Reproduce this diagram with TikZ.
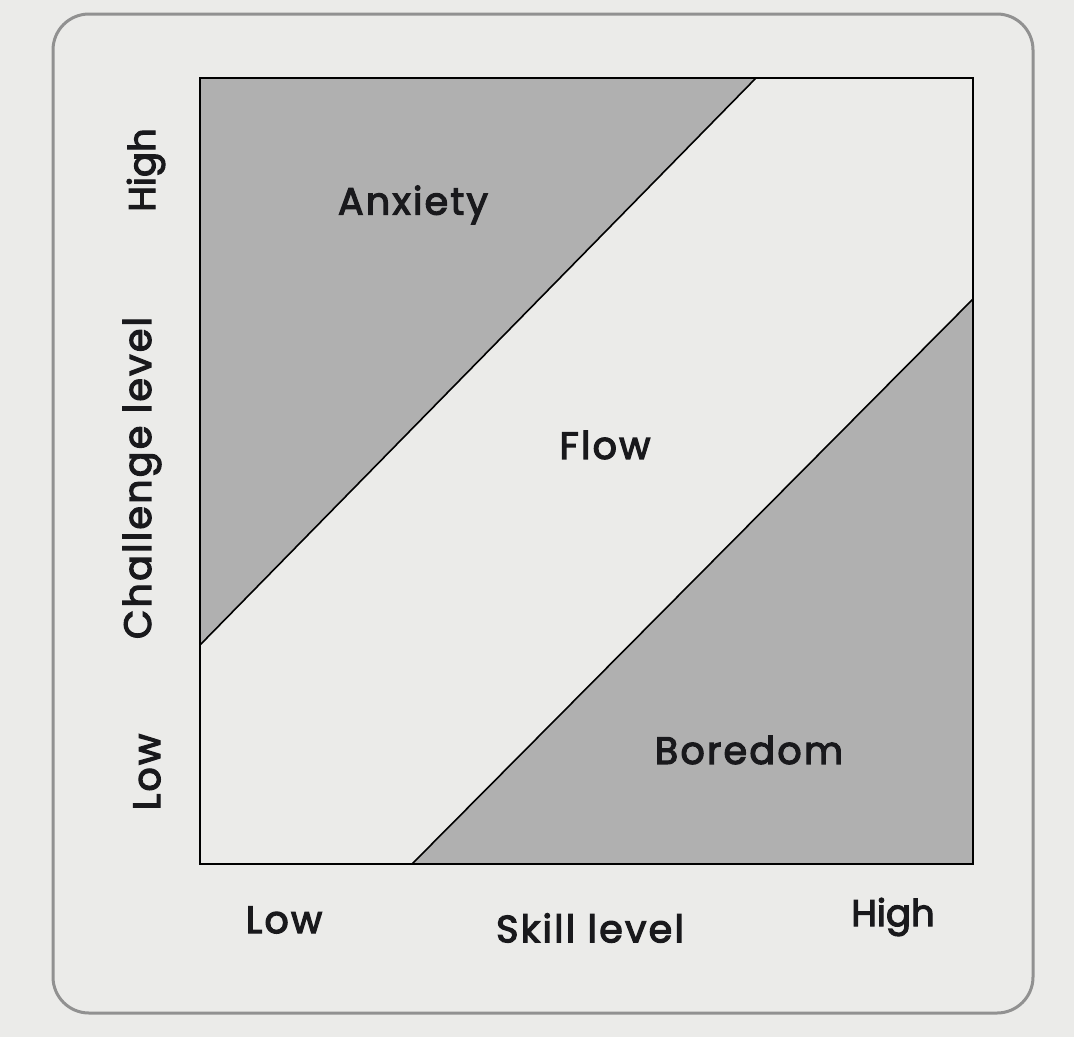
\documentclass[tikz,border=0pt]{standalone}
\usepackage{fontspec}
\setmainfont{Poppins}
\newfontfamily\chartfont{Poppins}[FakeBold=3.2,LetterSpace=6]
\newfontfamily\chartfonttight{Poppins}[FakeBold=3.2,LetterSpace=0]
\begin{document}
\begin{tikzpicture}[x=1pt,y=-1pt,
  paper/.style={fill=paperc},
  zone/.style={fill=zonec},
  edge/.style={draw=black,line width=1.6pt},
  label/.style={font=\chartfont\fontsize{38}{38}\selectfont,text=inkc,inner sep=0pt},
  axis/.style={font=\chartfont\fontsize{38}{38}\selectfont,text=inkc,inner sep=0pt},
  axistight/.style={font=\chartfonttight\fontsize{37}{37}\selectfont,text=inkc,inner sep=0pt}]
\definecolor{paperc}{RGB}{235,235,233}
\definecolor{zonec}{RGB}{176,176,176}
\definecolor{framec}{RGB}{145,145,145}
\definecolor{inkc}{RGB}{25,25,28}
% page and frame
\fill[paper] (0,0) rectangle (1074,1037);
\useasboundingbox (0,0) rectangle (1074,1037);
\draw[framec,line width=3pt,rounded corners=36pt] (53,14) rectangle (1033,1013);
% chart square corners and boundary points
\coordinate (tl) at (200,78);
\coordinate (tr) at (973,78);
\coordinate (br) at (973,864);
\coordinate (bl) at (200,864);
\coordinate (a1) at (200,645);
\coordinate (a2) at (756,78);
\coordinate (b1) at (412,864);
\coordinate (b2) at (973,299);
% shaded zones
\fill[zone] (tl) -- (a2) -- (a1) -- cycle;
\fill[zone] (b1) -- (b2) -- (br) -- cycle;
% outline and channel edges
\draw[edge,line join=miter] (tl) rectangle (br);
\draw[edge] (a1) -- (a2);
\draw[edge] (b1) -- (b2);
% zone labels
\node[label] (anx) at (413,205) {Anxiety};
\node[label] (flw) at (605,445) {Flow};
\node[label] (bor) at (749,750) {Boredom};
% axis labels
\node[axis] (xlow) at (284,920) {Low};
\node[axis] (xlab) at (590,928) {Skill level};
\node[axistight] (xhigh) at (893,917) {High};
\node[axis,rotate=90] (ylow) at (147,772) {Low};
\node[axis,rotate=90] (ylab) at (142,478) {Challenge level};
\node[axistight,rotate=90] (yhigh) at (146,170) {High};
\end{tikzpicture}
\end{document}
